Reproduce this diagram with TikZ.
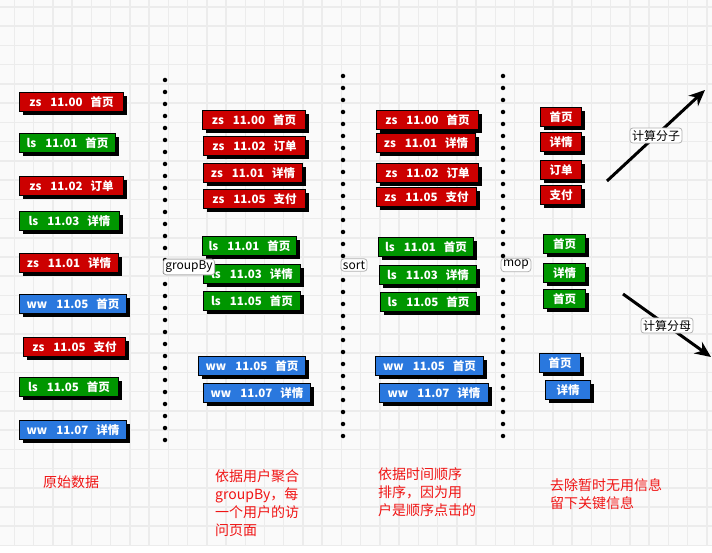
\documentclass[tikz,border=0pt]{standalone}
\usepackage{fontspec}
\setmainfont{Noto Sans CJK SC}
\usepackage{xcolor}
\usetikzlibrary{arrows.meta,shadows}

\definecolor{zsred}{RGB}{204,0,0}
\definecolor{lsgreen}{RGB}{0,150,0}
\definecolor{wwblue}{RGB}{42,120,222}
\definecolor{notered}{RGB}{240,20,20}
\definecolor{gridgray}{RGB}{236,236,236}
\definecolor{paper}{RGB}{250,250,250}

\newcommand{\rec}[3]{#1\hspace{9pt}#2\hspace{8pt}#3}

\begin{document}
\begin{tikzpicture}[x=1pt,y=-1pt]
  \tikzset{recbox/.style = {fill=#1, draw=black, line width=1pt, anchor=north west, minimum height=19pt, inner sep=0pt, text=white, font=\fontsize{11.5}{11.5}\selectfont\bfseries, drop shadow={shadow xshift=3.5pt, shadow yshift=-3.5pt, fill=black, opacity=1}}}
  \tikzset{tag/.style = {fill=white, draw=black!30, line width=0.8pt, rounded corners=3pt, inner sep=2pt, text=black, font=\fontsize{12}{12}\selectfont}}
  \tikzset{sep/.style = {line width=4.5pt, line cap=round, dash pattern=on 0pt off 12pt}}
  \tikzset{note/.style = {anchor=north west, align=left, inner sep=0pt, text=notered, font=\fontsize{14}{18.3}\selectfont}}
  \tikzset{gridline/.style = {draw=gridgray, line width=1.5pt}}
  \tikzset{flow/.style = {line width=3pt, -{Stealth[length=16pt,width=14pt]}}}

  \useasboundingbox (0,0) rectangle (712,553);

  % background grid
  \fill[paper] (0,0) rectangle (712,545);
  \foreach \k in {0,...,36} {\draw[gridline] ({14.5+19.23*\k},0) -- ++(0,545);}
  \foreach \k in {0,...,28} {\draw[gridline] (0,{7+19.23*\k}) -- ++(712,0);}

  % separators
  \coordinate (s1a) at (165,80);  \coordinate (s1b) at (165,444);
  \coordinate (s2a) at (343,76);  \coordinate (s2b) at (343,440);
  \coordinate (s3a) at (503,76);  \coordinate (s3b) at (503,440);
  \draw[sep] (s1a) -- (s1b);
  \draw[sep] (s2a) -- (s2b);
  \draw[sep] (s3a) -- (s3b);

  % records
  \foreach \n/\x/\y/\w/\col/\who/\tm/\pg in {
      a1/19/92/104/zsred/zs/11.00/首页, a2/19/133/96/lsgreen/ls/11.01/首页,
      a3/19/176/104/zsred/zs/11.02/订单, a4/19/211/100/lsgreen/ls/11.03/详情,
      a5/19/253/99/zsred/zs/11.01/详情, a6/19/294/107/wwblue/ww/11.05/首页,
      a7/23/337/102/zsred/zs/11.05/支付, a8/19/377/99/lsgreen/ls/11.05/首页,
      a9/19/420/107/wwblue/ww/11.07/详情,
      b1/202/110/103/zsred/zs/11.00/首页, b2/203/136/102/zsred/zs/11.02/订单,
      b3/203/163/99/zsred/zs/11.01/详情, b4/203/189/102/zsred/zs/11.05/支付,
      b5/202/236/94/lsgreen/ls/11.01/首页, b6/203/264/97/lsgreen/ls/11.03/详情,
      b7/203/291/97/lsgreen/ls/11.05/首页, b8/198/356/107/wwblue/ww/11.05/首页,
      b9/203/383/107/wwblue/ww/11.07/详情,
      c1/376/110/102/zsred/zs/11.00/首页, c2/376/133/99/zsred/zs/11.01/详情,
      c3/376/163/102/zsred/zs/11.02/订单, c4/376/187/100/zsred/zs/11.05/支付,
      c5/378/237/95/lsgreen/ls/11.01/首页, c6/379/265/97/lsgreen/ls/11.03/详情,
      c7/380/292/96/lsgreen/ls/11.05/首页, c8/375/356/108/wwblue/ww/11.05/首页,
      c9/379/383/109/wwblue/ww/11.07/详情}
    {\node[recbox=\col, minimum width=\w] (\n) at (\x,\y) {\rec{\who}{\tm}{\pg}};}

  % pages only
  \foreach \n/\x/\y/\w/\col/\pg in {
      d1/540/107/41/zsred/首页, d2/540/132/41/zsred/详情,
      d3/540/160/41/zsred/订单, d4/540/185/41/zsred/支付,
      d5/543/234/42/lsgreen/首页, d6/543/263/42/lsgreen/详情,
      d7/543/289/42/lsgreen/首页, d8/539/353/41/wwblue/首页,
      d9/545/380/45/wwblue/详情}
    {\node[recbox=\col, minimum width=\w] (\n) at (\x,\y) {\pg};}

  % steps
  \node[tag] (grp) at (189,267) {groupBy};
  \node[tag] (srt) at (354,265) {sort};
  \node[tag] (mop) at (516,265) {mop};

  \coordinate (up0) at (607,181);  \coordinate (up1) at (705,90);
  \coordinate (dn0) at (623,294);  \coordinate (dn1) at (711,357);
  \draw[flow] (up0) -- node[tag] (fz) {计算分子} (up1);
  \draw[flow] (dn0) -- node[tag] (fm) {计算分母} (dn1);

  % notes
  \node[note] (n1) at (43,476) {原始数据};
  \node[note] (n2) at (215,469) {依据用户聚合\\groupBy，每\\一个用户的访\\问页面};
  \node[note] (n3) at (378,467) {依据时间顺序\\排序，因为用\\户是顺序点击的};
  \node[note] (n4) at (550,478) {去除暂时无用信息\\留下关键信息};
\end{tikzpicture}
\end{document}
